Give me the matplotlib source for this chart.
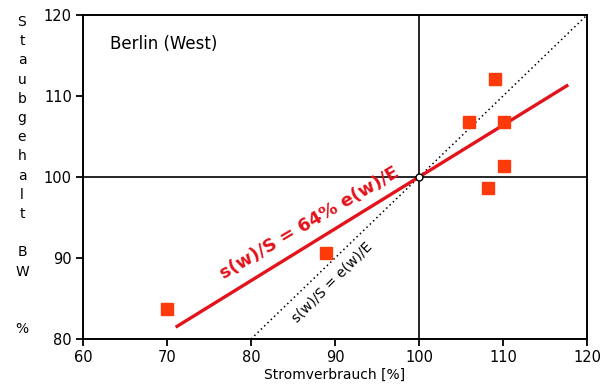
import numpy as np
import matplotlib
matplotlib.use("Agg")
import matplotlib.pyplot as plt

# Stromverbrauch [%] vs. Staubgehalt BW [%]
strom = [70.0, 88.9, 106.0, 109.1, 110.1, 110.1, 108.2]
staub = [83.7, 90.6, 106.8, 112.1, 106.8, 101.4, 98.6]

slope = 0.64
fit_x = np.array([71.2, 117.6])
diag_x = np.array([80, 120])

xticks = [60, 70, 80, 90, 100, 110, 120]
yticks = [80, 90, 100, 110, 120]
ylabel_letters = list("Staubgehalt") + ["", "B", "W", "", "", "%"]

plt.rcParams['font.family'] = ['DejaVu Sans']

fig = plt.figure(figsize=(6.08, 3.89), dpi=100)
ax = fig.add_axes([0.1365, 0.1285, 0.829, 0.833])

ax.set_xlim(60, 120)
ax.set_ylim(80, 120)

# cross at (100, 100)
ax.axhline(100, color="black", lw=1.2, zorder=1)
ax.axvline(100, color="black", lw=1.2, zorder=1)

# s(w)/S = e(w)/E
ax.plot(diag_x, diag_x, color="black", lw=1.1, ls=(0, (1, 2)), zorder=2)

# fit
ax.plot(fit_x, 100 + slope * (fit_x - 100), color="#e3121b", lw=2.4, zorder=3)

ax.plot(strom, staub, ls="none", marker="s", ms=8.5, color="#ff3a0a",
        markeredgecolor="#ff3a0a", zorder=4)
ax.plot([100], [100], ls="none", marker="o", ms=5, mfc="white",
        mec="black", mew=1.0, zorder=5)

ax.text(63.2, 116.4, "Berlin (West)", fontsize=12, va="center", ha="left")
ax.text(87.0, 94.3, "s(w)/S = 64% e(w)/E", color="#e3121b", fontsize=13,
        fontweight="bold", rotation=30.5, rotation_mode="anchor",
        ha="center", va="center")
ax.text(89.6, 87.0, "s(w)/S = e(w)/E", color="black", fontsize=10,
        rotation=45, rotation_mode="anchor", ha="center", va="center")

ax.set_xticks(xticks)
ax.set_yticks(yticks)
ax.tick_params(direction="out", length=5, width=1.3, labelsize=10.5,
               colors="black", pad=3)
for s in ax.spines.values():
    s.set_linewidth(1.4)

ax.set_xlabel("Stromverbrauch [%]", fontsize=10, labelpad=2)

# stacked y label
y0 = 1 - 22 / 389
step = 19.2 / 389
for i, ch in enumerate(ylabel_letters):
    if ch:
        fig.text(22 / 608, y0 - i * step, ch, fontsize=10, ha="center",
                 va="center")

fig.savefig("out.png", dpi=100)
